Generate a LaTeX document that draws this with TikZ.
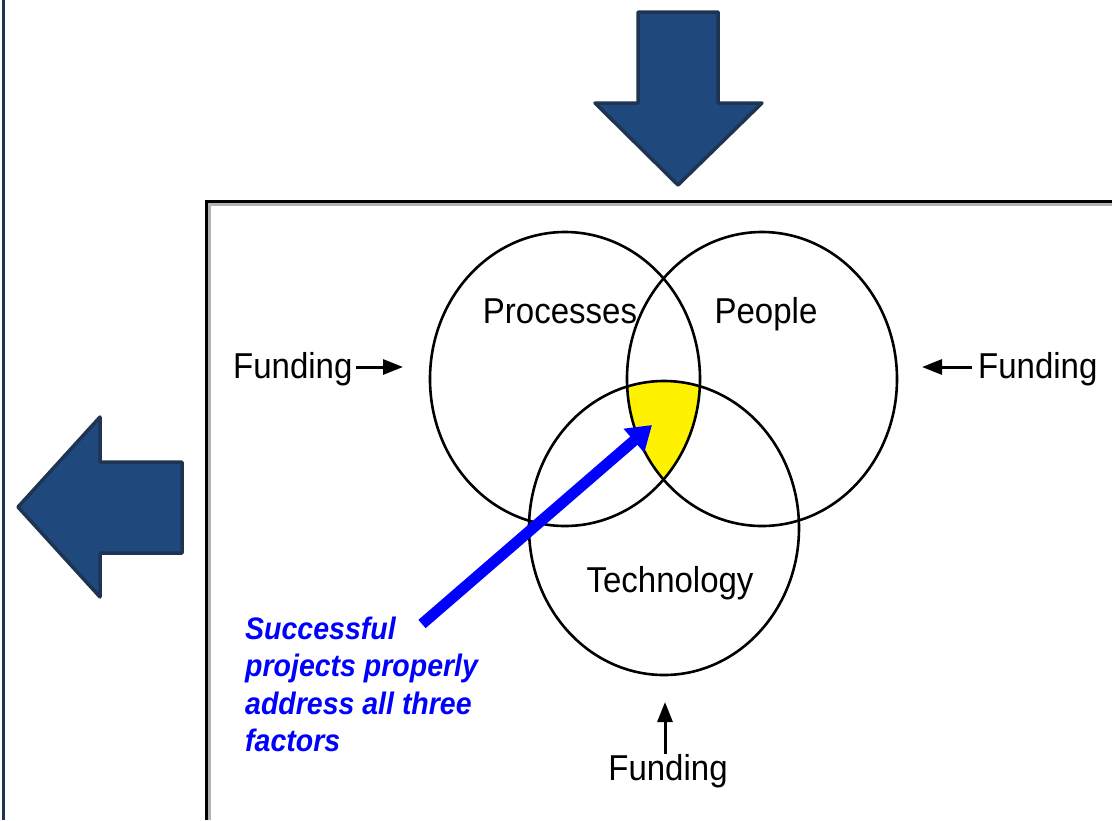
\documentclass[tikz,border=0pt]{standalone}
\usepackage{fontspec}
\setmainfont{Liberation Sans}
\usepackage{graphicx}
\usetikzlibrary{arrows.meta}
\definecolor{navyfill}{RGB}{31,73,125}
\definecolor{navyline}{RGB}{30,52,82}
\begin{document}
\begin{tikzpicture}[x=1pt,y=-1pt,
  venn/.style={draw=black, line width=2.6pt},
  bigarrow/.style={fill=navyfill, draw=navyline, line width=3.5pt, line join=round},
  fundarrow/.style={-{Triangle[length=20pt,width=15pt]}, line width=3pt},
  lbl/.style={font=\fontsize{33}{38}\selectfont, inner sep=0pt, anchor=base},
]
\useasboundingbox (0,0) rectangle (1112,820);
\fill[white] (0,0) rectangle (1112,820);
% left page border
\draw[navyline, line width=2.5pt] (3.5,0) -- (3.5,820);
% big arrows
\draw[bigarrow] (638,12) -- (718,12) -- (718,103) -- (762,103) -- (678,185) -- (595,103) -- (638,103) -- cycle;
\draw[bigarrow] (182,462) -- (182,553) -- (100,553) -- (100,597) -- (18,507) -- (100,417) -- (100,462) -- cycle;
% framed box
\draw[black!30, line width=2.5pt] (209.5,820) -- (209.5,204.5) -- (1112,204.5);
\draw[black, line width=3pt] (206.5,820) -- (206.5,201) -- (1112,201);
% yellow intersection
\begin{scope}
  \clip (565,379) ellipse [x radius=135pt, y radius=147pt];
  \clip (762,379) ellipse [x radius=135pt, y radius=147pt];
  \fill[yellow] (664,528) ellipse [x radius=135pt, y radius=147pt];
\end{scope}
% circles
\draw[venn] (565,379) ellipse [x radius=135pt, y radius=147pt];
\draw[venn] (762,379) ellipse [x radius=135pt, y radius=147pt];
\draw[venn] (664,528) ellipse [x radius=135pt, y radius=147pt];
% labels
\node[lbl] (lproc) at (560,323) {\scalebox{1}[1.09]{Processes}};
\node[lbl] (lpeop) at (766,323) {\scalebox{1}[1.09]{People}};
\node[lbl] (ltech) at (670,592) {\scalebox{1}[1.09]{Technology}};
% funding
\node[lbl, anchor=base west] (fl) at (233,378) {\scalebox{1}[1.09]{Funding}};
\node[lbl, anchor=base west] (fr) at (978,378) {\scalebox{1}[1.09]{Funding}};
\node[lbl] (fb) at (668,780) {\scalebox{1}[1.09]{Funding}};
\coordinate (flt) at (403,367);
\coordinate (frt) at (922,367);
\coordinate (fbt) at (665,702);
\draw[fundarrow] ([xshift=3pt]fl.east |- flt) -- (flt);
\draw[fundarrow] ([xshift=-6pt]fr.west |- frt) -- (frt);
\draw[fundarrow] (fb.north -| fbt) -- (fbt);
% note
\node[font=\fontsize{28.5}{34.5}\selectfont\bfseries\itshape, text=blue, inner sep=0pt, anchor=base west] (note) at (245,639)
  {\scalebox{1}[1.09]{\begin{tabular}[t]{@{}l@{}}Successful\\projects properly\\address all three\\factors\end{tabular}}};
\coordinate (bs) at (422,624);
\coordinate (bt) at (652,425);
\draw[blue, line width=11pt, -{Triangle[length=24pt,width=30pt]}] (bs) -- (bt);
\end{tikzpicture}
\end{document}
